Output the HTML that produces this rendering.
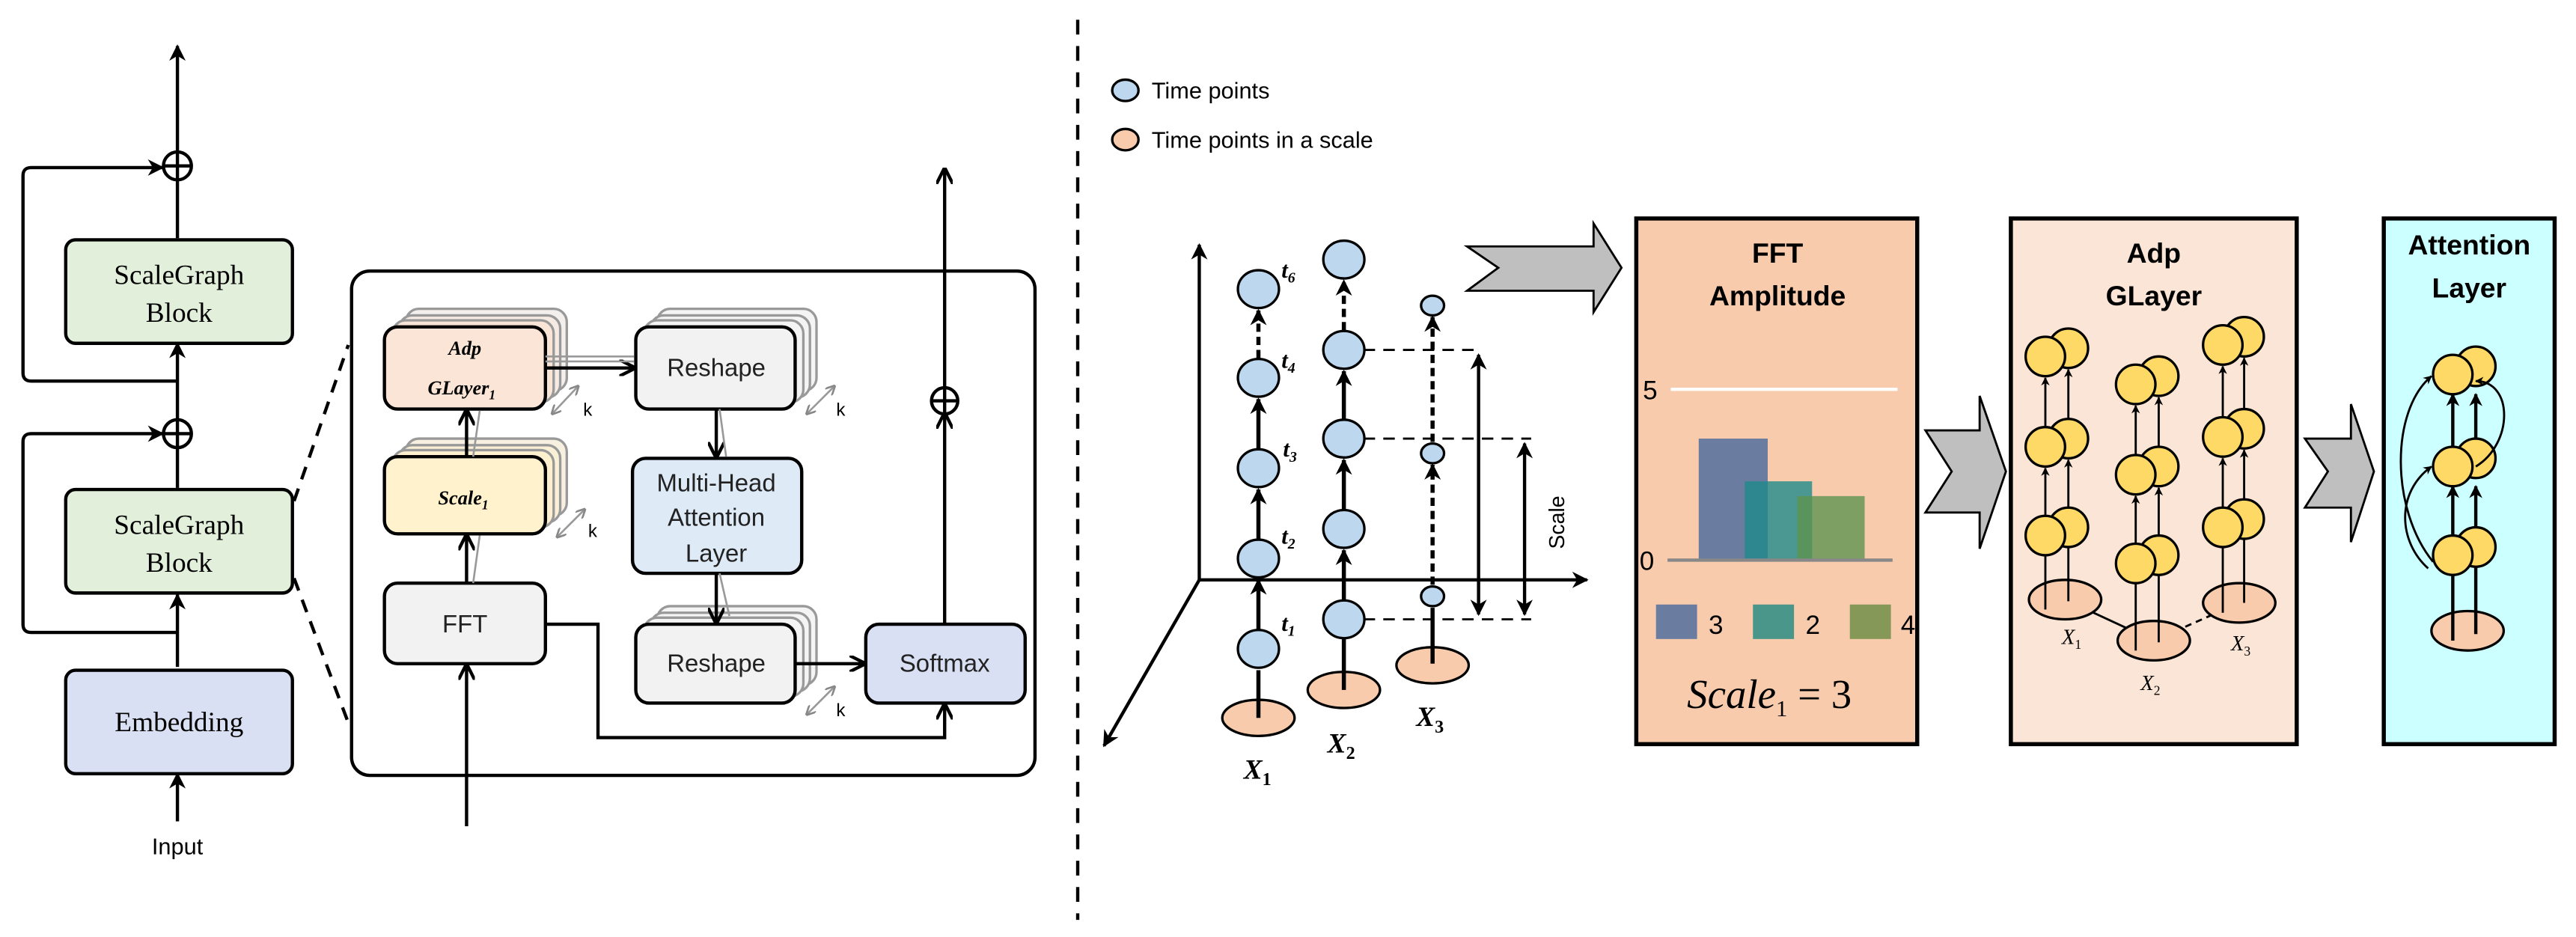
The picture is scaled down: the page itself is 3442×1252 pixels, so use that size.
<!DOCTYPE html>
<html><head><meta charset="utf-8"><style>
html,body{margin:0;padding:0;background:#fff;}
svg{display:block;}
.sf{font-family:"Liberation Serif",serif;}
.ss{font-family:"Liberation Sans",sans-serif;}
</style></head><body>
<svg width="3442" height="1252" viewBox="0 0 1568 570.4" preserveAspectRatio="none" xmlns="http://www.w3.org/2000/svg">
<defs>
<marker id="a" viewBox="0 0 10 10" refX="9" refY="5" markerWidth="5" markerHeight="5" orient="auto-start-reverse"><path d="M0,0 L10,5 L0,10 L3,5 z" fill="#000"/></marker>
<marker id="o" viewBox="0 0 10 10" refX="9" refY="5" markerWidth="5" markerHeight="5" orient="auto-start-reverse"><path d="M0,0 L10,5 L0,10" fill="none" stroke="#000" stroke-width="2"/></marker>
<marker id="g" viewBox="0 0 10 10" refX="9" refY="5" markerWidth="5" markerHeight="5" orient="auto-start-reverse"><path d="M0,0 L10,5 L0,10" fill="none" stroke="#888" stroke-width="2"/></marker>
<marker id="s" viewBox="0 0 10 10" refX="9" refY="5" markerWidth="4" markerHeight="4" orient="auto-start-reverse"><path d="M0,0 L10,5 L0,10 L3,5 z" fill="#000"/></marker>
</defs>
<rect width="1568" height="570.4" fill="#fff"/>

<!-- LEFT COLUMN -->
<g stroke="#000" stroke-width="2" fill="none">
<line x1="108" y1="93" x2="108" y2="28" marker-end="url(#a)"/>
<line x1="108" y1="145" x2="108" y2="109"/>
<line x1="108" y1="256" x2="108" y2="209" marker-end="url(#a)"/>
<line x1="108" y1="297" x2="108" y2="272"/>
<line x1="108" y1="406" x2="108" y2="362" marker-end="url(#a)"/>
<line x1="108" y1="500" x2="108" y2="471" marker-end="url(#a)"/>
<path d="M108,232 H19 Q14,232 14,227 V107 Q14,102 19,102 H99" marker-end="url(#a)"/>
<path d="M108,385 H19 Q14,385 14,380 V269 Q14,264 19,264 H99" marker-end="url(#a)"/>
<circle cx="108" cy="101" r="8.5"/><line x1="99.5" y1="101" x2="116.5" y2="101"/><line x1="108" y1="92.5" x2="108" y2="109.5"/>
<circle cx="108" cy="264" r="8.5"/><line x1="99.5" y1="264" x2="116.5" y2="264"/><line x1="108" y1="255.5" x2="108" y2="272.5"/>
</g>
<rect x="40" y="146" width="138" height="63" rx="6" fill="#e2efda" stroke="#000" stroke-width="2"/>
<rect x="40" y="298" width="138" height="63" rx="6" fill="#e2efda" stroke="#000" stroke-width="2"/>
<rect x="40" y="408" width="138" height="63" rx="6" fill="#dae0f3" stroke="#000" stroke-width="2"/>
<g class="sf" font-size="17" text-anchor="middle" fill="#000">
<text x="109" y="173">ScaleGraph</text><text x="109" y="196">Block</text>
<text x="109" y="325">ScaleGraph</text><text x="109" y="348">Block</text>
<text x="109" y="445">Embedding</text>
</g>
<text x="108" y="520" class="ss" font-size="14" text-anchor="middle">Input</text>
<g stroke="#000" stroke-width="2" stroke-dasharray="8,6"><line x1="179" y1="305" x2="212" y2="210"/><line x1="179" y1="352" x2="212" y2="440"/></g>

<!-- INNER BOX -->
<rect x="214" y="165" width="416" height="307" rx="11" fill="none" stroke="#000" stroke-width="2"/>
<g stroke="#999" stroke-width="1.5">
<rect x="247" y="188" width="98" height="50" rx="8" fill="#f3efec"/>
<rect x="243" y="192" width="98" height="50" rx="8" fill="#f5ebe3"/>
<rect x="239" y="195" width="98" height="50" rx="8" fill="#f8e5d8"/>
<rect x="247" y="267" width="98" height="47" rx="8" fill="#f7f0e0"/>
<rect x="243" y="271" width="98" height="47" rx="8" fill="#faf0d6"/>
<rect x="239" y="274" width="98" height="47" rx="8" fill="#fdf0cf"/>
<rect x="400" y="188" width="97" height="50" rx="8" fill="#f4f4f4"/>
<rect x="396" y="192" width="97" height="50" rx="8" fill="#f4f4f4"/>
<rect x="392" y="195" width="97" height="50" rx="8" fill="#f4f4f4"/>
<rect x="400" y="369" width="97" height="48" rx="8" fill="#f4f4f4"/>
<rect x="396" y="373" width="97" height="48" rx="8" fill="#f4f4f4"/>
<rect x="392" y="376" width="97" height="48" rx="8" fill="#f4f4f4"/>
</g>
<g stroke="#000" stroke-width="2">
<rect x="234" y="199" width="98" height="50" rx="8" fill="#fbe5d6"/>
<rect x="234" y="278" width="98" height="47" rx="8" fill="#fff2cc"/>
<rect x="234" y="355" width="98" height="49" rx="8" fill="#f2f2f2"/>
<rect x="387" y="199" width="97" height="50" rx="8" fill="#f2f2f2"/>
<rect x="385" y="279" width="103" height="70" rx="8" fill="#deebf7"/>
<rect x="387" y="380" width="97" height="48" rx="8" fill="#f2f2f2"/>
<rect x="527" y="380" width="97" height="48" rx="8" fill="#dae0f3"/>
</g>
<g class="sf" font-style="italic" font-weight="bold" text-anchor="middle" font-size="12">
<text x="283" y="216">Adp</text><text x="281" y="240">GLayer<tspan font-size="8" dy="3">1</tspan></text>
<text x="282" y="307">Scale<tspan font-size="8" dy="3">1</tspan></text>
</g>
<g class="ss" font-size="15" text-anchor="middle" fill="#222">
<text x="283" y="385">FFT</text>
<text x="436" y="229">Reshape</text>
<text x="436" y="299">Multi-Head</text><text x="436" y="320">Attention</text><text x="436" y="342">Layer</text>
<text x="436" y="409">Reshape</text>
<text x="575" y="409">Softmax</text>
</g>
<g stroke="#000" stroke-width="2" fill="none">
<line x1="284" y1="503" x2="284" y2="405" marker-end="url(#o)"/>
<line x1="284" y1="355" x2="284" y2="326" marker-end="url(#o)"/>
<line x1="284" y1="278" x2="284" y2="250" marker-end="url(#o)"/>
<line x1="332" y1="224" x2="386" y2="224" marker-end="url(#o)"/>
<line x1="436" y1="249" x2="436" y2="278" marker-end="url(#o)"/>
<line x1="436" y1="349" x2="436" y2="379" marker-end="url(#o)"/>
<line x1="484" y1="404" x2="526" y2="404" marker-end="url(#o)"/>
<path d="M333,380 H364 V449 H575 V429" marker-end="url(#o)"/>
<line x1="575" y1="380" x2="575" y2="252" marker-end="url(#o)"/>
<line x1="575" y1="236" x2="575" y2="103" marker-end="url(#o)"/>
<circle cx="575" cy="244" r="8"/><line x1="567" y1="244" x2="583" y2="244"/><line x1="575" y1="236" x2="575" y2="252"/>
</g>
<g stroke="#999" stroke-width="1.2" fill="none">
<line x1="332" y1="217" x2="386" y2="217"/><line x1="332" y1="220" x2="386" y2="220"/>
<line x1="288" y1="355" x2="292" y2="326"/><line x1="288" y1="278" x2="292" y2="250"/>
<line x1="438" y1="249" x2="442" y2="278"/><line x1="438" y1="349" x2="444" y2="375"/>
<line x1="336" y1="252" x2="352" y2="235" marker-start="url(#g)" marker-end="url(#g)"/>
<line x1="339" y1="327" x2="356" y2="310" marker-start="url(#g)" marker-end="url(#g)"/>
<line x1="491" y1="252" x2="508" y2="235" marker-start="url(#g)" marker-end="url(#g)"/>
<line x1="491" y1="435" x2="508" y2="418" marker-start="url(#g)" marker-end="url(#g)"/>
</g>
<g class="ss" font-size="11"><text x="355" y="253">k</text><text x="358" y="327">k</text><text x="509" y="253">k</text><text x="509" y="436">k</text></g>

<line x1="656" y1="12" x2="656" y2="560" stroke="#000" stroke-width="2" stroke-dasharray="9,7"/>

<ellipse cx="685" cy="55" rx="8" ry="6.5" fill="#bdd7ee" stroke="#000" stroke-width="1.5"/>
<ellipse cx="685" cy="85" rx="8" ry="6.5" fill="#f8cbad" stroke="#000" stroke-width="1.5"/>
<g class="ss" font-size="14"><text x="701" y="60">Time points</text><text x="701" y="90">Time points in a scale</text></g>

<g stroke="#000" stroke-width="2" fill="none">
<line x1="730" y1="353" x2="730" y2="149" marker-end="url(#a)"/>
<line x1="730" y1="353" x2="966" y2="353" marker-end="url(#a)"/>
<line x1="730" y1="353" x2="672" y2="454" marker-end="url(#a)"/>
</g>
<g stroke="#000" stroke-width="1.3" stroke-dasharray="7,5" fill="none">
<line x1="830" y1="213" x2="902" y2="213"/><line x1="830" y1="267" x2="932" y2="267"/><line x1="830" y1="377" x2="932" y2="377"/>
</g>
<g stroke="#000" stroke-width="2"><line x1="900" y1="216" x2="900" y2="374" marker-start="url(#a)" marker-end="url(#a)"/><line x1="928" y1="270" x2="928" y2="374" marker-start="url(#a)" marker-end="url(#a)"/></g>
<text class="ss" font-size="13" transform="translate(952,318) rotate(-90)" text-anchor="middle">Scale</text>
<g stroke="#000" stroke-width="2.5" fill="none">
<line x1="766" y1="383" x2="766" y2="353" marker-end="url(#s)"/>
<line x1="766" y1="328" x2="766" y2="298" marker-end="url(#s)"/>
<line x1="766" y1="273" x2="766" y2="243" marker-end="url(#s)"/>
<line x1="766" y1="218" x2="766" y2="189" marker-end="url(#s)" stroke-dasharray="5,3"/>
<line x1="818" y1="365" x2="818" y2="335" marker-end="url(#s)"/>
<line x1="818" y1="310" x2="818" y2="280" marker-end="url(#s)"/>
<line x1="818" y1="255" x2="818" y2="226" marker-end="url(#s)"/>
<line x1="818" y1="201" x2="818" y2="171" marker-end="url(#s)" stroke-dasharray="5,3"/>
<line x1="872" y1="356" x2="872" y2="283" marker-end="url(#s)" stroke-dasharray="5,3"/>
<line x1="872" y1="269" x2="872" y2="193" marker-end="url(#s)" stroke-dasharray="5,3"/>
</g>
<g stroke="#000" stroke-width="1.5">
<ellipse cx="766" cy="437" rx="22" ry="11" fill="#f8cbad"/>
<ellipse cx="818" cy="420" rx="22" ry="11" fill="#f8cbad"/>
<ellipse cx="872" cy="405" rx="22" ry="11" fill="#f8cbad"/>
</g>
<g stroke="#000" stroke-width="2.5"><line x1="766" y1="437" x2="766" y2="408"/><line x1="818" y1="420" x2="818" y2="389"/><line x1="872" y1="404" x2="872" y2="370"/></g>
<g stroke="#000" stroke-width="1.5" fill="#bdd7ee">
<ellipse cx="766" cy="176" rx="12.5" ry="11.5"/><ellipse cx="766" cy="230" rx="12.5" ry="11.5"/><ellipse cx="766" cy="285" rx="12.5" ry="11.5"/><ellipse cx="766" cy="340" rx="12.5" ry="11.5"/><ellipse cx="766" cy="395" rx="12.5" ry="11.5"/>
<ellipse cx="818" cy="158" rx="12.5" ry="11.5"/><ellipse cx="818" cy="213" rx="12.5" ry="11.5"/><ellipse cx="818" cy="267" rx="12.5" ry="11.5"/><ellipse cx="818" cy="322" rx="12.5" ry="11.5"/><ellipse cx="818" cy="377" rx="12.5" ry="11.5"/>
<ellipse cx="872" cy="186" rx="7" ry="6"/><ellipse cx="872" cy="276" rx="7" ry="6"/><ellipse cx="872" cy="363" rx="7" ry="6"/>
</g>
<g class="sf" font-style="italic" font-weight="bold" font-size="14">
<text x="780" y="169">t<tspan font-size="9" dy="3">6</tspan></text>
<text x="780" y="224">t<tspan font-size="9" dy="3">4</tspan></text>
<text x="781" y="278">t<tspan font-size="9" dy="3">3</tspan></text>
<text x="780" y="331">t<tspan font-size="9" dy="3">2</tspan></text>
<text x="780" y="384">t<tspan font-size="9" dy="3">1</tspan></text>
</g>
<g class="sf" font-style="italic" font-weight="bold" font-size="17">
<text x="757" y="474">X<tspan font-size="11" dy="4" font-style="normal">1</tspan></text>
<text x="808" y="458">X<tspan font-size="11" dy="4" font-style="normal">2</tspan></text>
<text x="862" y="442">X<tspan font-size="11" dy="4" font-style="normal">3</tspan></text>
</g>

<g fill="#bfbfbf" stroke="#000" stroke-width="1.3">
<path d="M893,150 H970 V136 L987,163 L970,190 V177 H893 L912,163 Z"/>
<path d="M1172,262 H1205 V241 L1221,287 L1205,334 V312 H1172 L1188,287 Z"/>
<path d="M1403,267 H1431 V246 L1445,287 L1431,330 V309 H1403 L1417,287 Z"/>
</g>

<rect x="996" y="133" width="171" height="320" fill="#f8cbad" stroke="#000" stroke-width="2.5"/>
<g class="ss" font-weight="bold" font-size="17" text-anchor="middle"><text x="1082" y="160">FFT</text><text x="1082" y="186">Amplitude</text></g>
<line x1="1017" y1="237" x2="1155" y2="237" stroke="#fff" stroke-width="2"/>
<text x="1000" y="243" class="ss" font-size="16">5</text>
<rect x="1034" y="267" width="42" height="74" fill="#6a7ca0"/>
<rect x="1062" y="293" width="41" height="48" fill="#1f8a8a" opacity="0.8"/>
<rect x="1094" y="302" width="41" height="39" fill="#5e9450" opacity="0.8"/>
<line x1="1015" y1="341" x2="1152" y2="341" stroke="#888" stroke-width="2"/>
<text x="998" y="347" class="ss" font-size="16">0</text>
<rect x="1008" y="368" width="25" height="21" fill="#6a7ca0"/>
<rect x="1067" y="368" width="25" height="21" fill="#4a968a"/>
<rect x="1126" y="368" width="25" height="21" fill="#869858"/>
<g class="ss" font-size="16"><text x="1040" y="386">3</text><text x="1099" y="386">2</text><text x="1157" y="386">4</text></g>
<text x="1077" y="431" class="sf" font-style="italic" font-size="25" text-anchor="middle">Scale<tspan font-size="14" dy="5" font-style="normal">1</tspan><tspan dy="-5" font-style="normal"> = 3</tspan></text>

<rect x="1224" y="133" width="174" height="320" fill="#fbe5d6" stroke="#000" stroke-width="2.5"/>
<g class="ss" font-weight="bold" font-size="17" text-anchor="middle"><text x="1311" y="160">Adp</text><text x="1311" y="186">GLayer</text></g>
<g stroke="#000" stroke-width="1.3" fill="none">
<line x1="1257" y1="365" x2="1311" y2="390"/><line x1="1311" y1="390" x2="1363" y2="367" stroke-dasharray="4,3"/>
</g>
<g stroke="#000" stroke-width="1.5" fill="#f8cbad">
<ellipse cx="1257" cy="365" rx="22" ry="12"/><ellipse cx="1311" cy="390" rx="22" ry="12"/><ellipse cx="1363" cy="367" rx="22" ry="12"/>
</g>
<g stroke="#000" stroke-width="1.5" fill="#ffd966">
<circle cx="1259" cy="212" r="12"/><circle cx="1245" cy="217" r="12"/>
<circle cx="1259" cy="267" r="12"/><circle cx="1245" cy="272" r="12"/>
<circle cx="1259" cy="321" r="12"/><circle cx="1245" cy="326" r="12"/>
<circle cx="1314" cy="229" r="12"/><circle cx="1300" cy="234" r="12"/>
<circle cx="1314" cy="284" r="12"/><circle cx="1300" cy="289" r="12"/>
<circle cx="1314" cy="338" r="12"/><circle cx="1300" cy="343" r="12"/>
<circle cx="1366" cy="205" r="12"/><circle cx="1353" cy="210" r="12"/>
<circle cx="1366" cy="261" r="12"/><circle cx="1353" cy="266" r="12"/>
<circle cx="1366" cy="316" r="12"/><circle cx="1353" cy="321" r="12"/>
</g>
<g stroke="#000" stroke-width="1.3" fill="none">
<line x1="1245" y1="314" x2="1245" y2="285" marker-end="url(#s)"/><line x1="1259" y1="309" x2="1259" y2="280" marker-end="url(#s)"/>
<line x1="1245" y1="260" x2="1245" y2="230" marker-end="url(#s)"/><line x1="1259" y1="255" x2="1259" y2="225" marker-end="url(#s)"/>
<line x1="1300" y1="331" x2="1300" y2="302" marker-end="url(#s)"/><line x1="1314" y1="326" x2="1314" y2="297" marker-end="url(#s)"/>
<line x1="1300" y1="277" x2="1300" y2="247" marker-end="url(#s)"/><line x1="1314" y1="272" x2="1314" y2="242" marker-end="url(#s)"/>
<line x1="1353" y1="309" x2="1353" y2="279" marker-end="url(#s)"/><line x1="1366" y1="304" x2="1366" y2="274" marker-end="url(#s)"/>
<line x1="1353" y1="254" x2="1353" y2="223" marker-end="url(#s)"/><line x1="1366" y1="249" x2="1366" y2="218" marker-end="url(#s)"/>
<line x1="1245" y1="371" x2="1245" y2="338"/><line x1="1259" y1="366" x2="1259" y2="333"/>
<line x1="1300" y1="396" x2="1300" y2="355"/><line x1="1314" y1="391" x2="1314" y2="350"/>
<line x1="1353" y1="373" x2="1353" y2="333"/><line x1="1366" y1="367" x2="1366" y2="328"/>
</g>
<g class="sf" font-style="italic" font-size="13">
<text x="1255" y="392">X<tspan font-size="8" dy="3" font-style="normal">1</tspan></text>
<text x="1303" y="420">X<tspan font-size="8" dy="3" font-style="normal">2</tspan></text>
<text x="1358" y="396">X<tspan font-size="8" dy="3" font-style="normal">3</tspan></text>
</g>

<rect x="1451" y="133" width="104" height="320" fill="#ccffff" stroke="#000" stroke-width="2.5"/>
<g class="ss" font-weight="bold" font-size="17" text-anchor="middle"><text x="1503" y="155">Attention</text><text x="1503" y="181">Layer</text></g>
<ellipse cx="1502" cy="384" rx="22" ry="12" fill="#f8cbad" stroke="#000" stroke-width="1.5"/>
<g stroke="#000" stroke-width="2" fill="none">
<line x1="1493" y1="390" x2="1493" y2="348"/><line x1="1507" y1="386" x2="1507" y2="345"/>
<line x1="1493" y1="328" x2="1493" y2="296" marker-end="url(#s)"/><line x1="1507" y1="323" x2="1507" y2="296" marker-end="url(#s)"/>
<line x1="1493" y1="273" x2="1493" y2="240" marker-end="url(#s)"/><line x1="1507" y1="268" x2="1507" y2="240" marker-end="url(#s)"/>
</g>
<g stroke="#000" stroke-width="1.5" fill="#ffd966">
<circle cx="1507" cy="223" r="12"/><circle cx="1493" cy="228" r="12"/>
<circle cx="1507" cy="279" r="12"/><circle cx="1493" cy="284" r="12"/>
<circle cx="1507" cy="333" r="12"/><circle cx="1493" cy="338" r="12"/>
</g>
<g stroke="#000" stroke-width="1.3" fill="none">
<path d="M1478,346 C1460,330 1458,300 1480,284" marker-end="url(#s)"/>
<path d="M1481,342 C1455,310 1455,250 1480,229" marker-end="url(#s)"/>
<path d="M1507,284 C1530,270 1530,232 1507,232" marker-end="url(#s)"/>
</g>
</svg>
</body></html>
